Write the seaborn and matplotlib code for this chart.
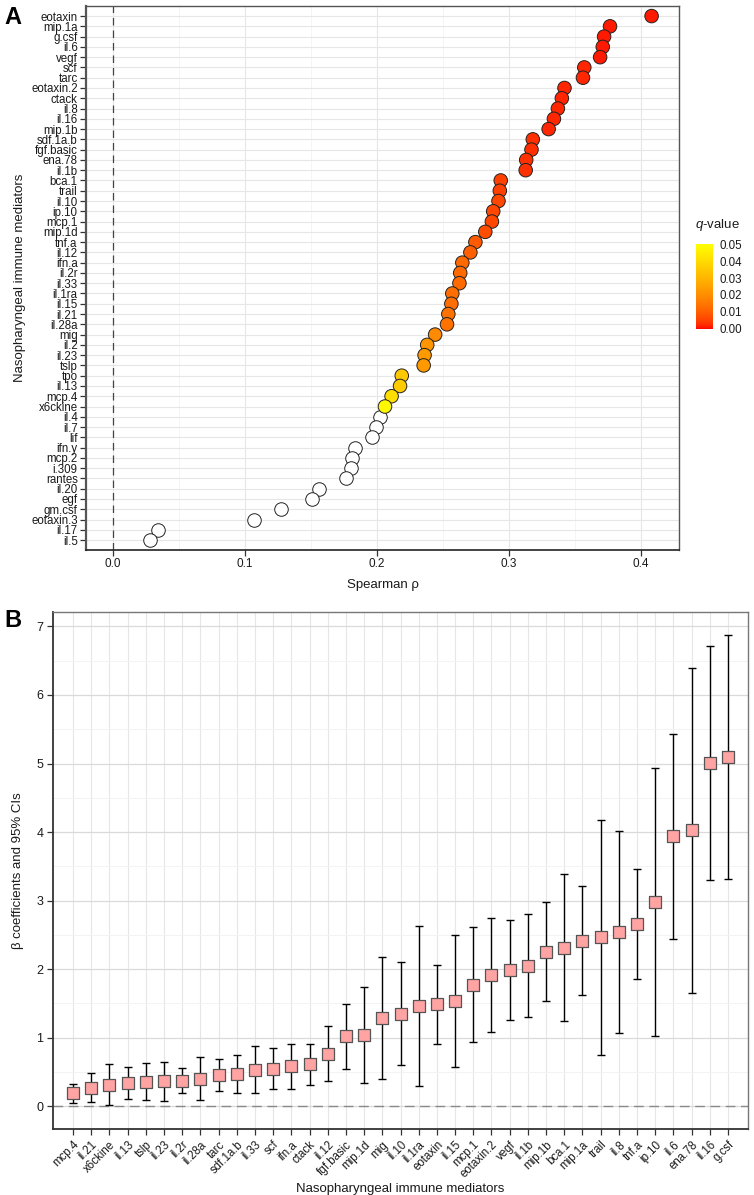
import numpy as np
import pandas as pd
import matplotlib
matplotlib.use("Agg")
import matplotlib.pyplot as plt
import seaborn as sns
from matplotlib.colors import ListedColormap, Normalize
from matplotlib.ticker import MultipleLocator

sns.set_theme(style="white")
plt.rcParams["font.family"] = ["Liberation Sans", "DejaVu Sans"]
plt.rcParams["mathtext.fontset"] = "custom"
plt.rcParams["mathtext.it"] = "Liberation Sans:italic"
plt.rcParams["mathtext.rm"] = "Liberation Sans"

# ---------------- Panel A data ----------------
mediators_a = ["eotaxin", "mip.1a", "g.csf", "il.6", "vegf", "scf", "tarc", "eotaxin.2",
               "ctack", "il.8", "il.16", "mip.1b", "sdf.1a.b", "fgf.basic", "ena.78", "il.1b",
               "bca.1", "trail", "il.10", "ip.10", "mcp.1", "mip.1d", "tnf.a", "il.12",
               "ifn.a", "il.2r", "il.33", "il.1ra", "il.15", "il.21", "il.28a", "mig",
               "il.2", "il.23", "tslp", "tpo", "il.13", "mcp.4", "x6ckine", "il.4",
               "il.7", "lif", "ifn.y", "mcp.2", "i.309", "rantes", "il.20", "egf",
               "gm.csf", "eotaxin.3", "il.17", "il.5"]
spearman_rho = [0.408, 0.3765, 0.372, 0.371, 0.369, 0.357, 0.356, 0.342,
                0.340, 0.337, 0.334, 0.330, 0.318, 0.317, 0.313, 0.3126,
                0.2937, 0.293, 0.292, 0.288, 0.287, 0.282, 0.2745, 0.2707,
                0.2646, 0.263, 0.2624, 0.257, 0.2563, 0.254, 0.253, 0.244,
                0.238, 0.236, 0.2353, 0.2187, 0.2174, 0.211, 0.206, 0.2023,
                0.199, 0.196, 0.1836, 0.1813, 0.1806, 0.1768, 0.1563, 0.1505,
                0.1273, 0.107, 0.0343, 0.028]
q_values = [0.001, 0.001, 0.001, 0.001, 0.001, 0.002, 0.002, 0.002,
            0.002, 0.002, 0.002, 0.002, 0.003, 0.003, 0.003, 0.003,
            0.005, 0.005, 0.006, 0.006, 0.006, 0.007, 0.009, 0.010,
            0.012, 0.012, 0.012, 0.013, 0.013, 0.014, 0.014, 0.019,
            0.022, 0.023, 0.023, 0.035, 0.036, 0.041, 0.048, np.nan,
            np.nan, np.nan, np.nan, np.nan, np.nan, np.nan, np.nan, np.nan,
            np.nan, np.nan, np.nan, np.nan]

# ---------------- Panel B data ----------------
mediators_b = ["mcp.4", "il.21", "x6ckine", "il.13", "tslp", "il.23", "il.2r", "il.28a",
               "tarc", "sdf.1a.b", "il.33", "scf", "ifn.a", "ctack", "il.12", "fgf.basic",
               "mip.1d", "mig", "il.10", "il.1ra", "eotaxin", "il.15", "mcp.1", "eotaxin.2",
               "vegf", "il.1b", "mip.1b", "bca.1", "mip.1a", "trail", "il.8", "tnf.a",
               "ip.10", "il.6", "ena.78", "il.16", "g.csf"]
beta = [0.185, 0.27, 0.31, 0.34, 0.35, 0.36, 0.37, 0.40,
        0.45, 0.47, 0.53, 0.54, 0.58, 0.61, 0.76, 1.02,
        1.04, 1.288, 1.35, 1.463, 1.487, 1.536, 1.774, 1.915,
        1.988, 2.047, 2.256, 2.314, 2.41, 2.465, 2.54, 2.66,
        2.985, 3.94, 4.025, 5.007, 5.095]
ci_low = [0.05, 0.053, 0.015, 0.10, 0.092, 0.068, 0.185, 0.083,
          0.219, 0.194, 0.194, 0.243, 0.243, 0.311, 0.365, 0.535,
          0.34, 0.389, 0.598, 0.30, 0.904, 0.574, 0.933, 1.079,
          1.259, 1.293, 1.527, 1.24, 1.619, 0.749, 1.065, 1.852,
          1.026, 2.445, 1.65, 3.30, 3.315]
ci_high = [0.326, 0.486, 0.608, 0.574, 0.622, 0.647, 0.549, 0.71,
           0.68, 0.739, 0.875, 0.841, 0.909, 0.909, 1.17, 1.497,
           1.745, 2.178, 2.105, 2.63, 2.06, 2.50, 2.61, 2.747,
           2.717, 2.80, 2.985, 3.383, 3.209, 4.176, 4.02, 3.466,
           4.94, 5.435, 6.39, 6.713, 6.87]


# ---------------- colour scale (Lab interpolation red -> yellow, like ggplot) ----------------
def _srgb_to_lab(rgb):
    rgb = np.asarray(rgb, float)
    lin = np.where(rgb <= 0.04045, rgb / 12.92, ((rgb + 0.055) / 1.055) ** 2.4)
    M = np.array([[0.4124, 0.3576, 0.1805], [0.2126, 0.7152, 0.0722], [0.0193, 0.1192, 0.9505]])
    xyz = M @ lin / np.array([0.95047, 1.0, 1.08883])
    f = np.where(xyz > 0.008856, np.cbrt(xyz), 7.787 * xyz + 16 / 116)
    return np.array([116 * f[1] - 16, 500 * (f[0] - f[1]), 200 * (f[1] - f[2])])


def _lab_to_srgb(lab):
    L, a, b = lab
    fy = (L + 16) / 116
    fx = fy + a / 500
    fz = fy - b / 200
    f = np.array([fx, fy, fz])
    xyz = np.where(f ** 3 > 0.008856, f ** 3, (f - 16 / 116) / 7.787) * np.array([0.95047, 1.0, 1.08883])
    Minv = np.array([[3.2406, -1.5372, -0.4986], [-0.9689, 1.8758, 0.0415], [0.0557, -0.2040, 1.0570]])
    lin = Minv @ xyz
    lin = np.clip(lin, 0, 1)
    rgb = np.where(lin <= 0.0031308, 12.92 * lin, 1.055 * lin ** (1 / 2.4) - 0.055)
    return np.clip(rgb, 0, 1)


lab_lo = _srgb_to_lab([1, 0, 0])
lab_hi = _srgb_to_lab([1, 1, 0])
cmap_colors = [_lab_to_srgb(lab_lo + t * (lab_hi - lab_lo)) for t in np.linspace(0, 1, 256)]
q_cmap = ListedColormap(cmap_colors)
q_norm = Normalize(0, 0.05)

# ---------------- figure ----------------
fig = plt.figure(figsize=(7.54, 11.95), dpi=100)
fig.patch.set_facecolor("white")

grid_major = "#E6E6E6"
grid_minor = "#F3F3F3"
spine_col = "#555555"
text_col = "#1A1A1A"

# ===== Panel A =====
axA = fig.add_axes([0.1141, 0.5397, 0.7865, 0.4552])
dfA = pd.DataFrame({"mediator": mediators_a, "rho": spearman_rho, "q": q_values})
dfA["pos"] = np.arange(len(dfA))
sig = dfA[dfA["q"].notna()]
nonsig = dfA[dfA["q"].isna()]

axA.axvline(0, color="#444444", lw=0.9, ls=(0, (6, 4)), zorder=1)
sns.scatterplot(data=nonsig, x="rho", y="pos", ax=axA, color="white", s=95,
                edgecolor="#222222", linewidth=0.7, zorder=3, legend=False)
sns.scatterplot(data=sig, x="rho", y="pos", hue="q", palette=q_cmap, hue_norm=q_norm,
                ax=axA, s=95, edgecolor="#222222", linewidth=0.7, zorder=3, legend=False)

axA.set_xlim(-0.0205, 0.4288)
axA.set_ylim(len(dfA) - 1 + 0.97, -0.97)
axA.set_yticks(dfA["pos"])
axA.set_yticklabels(dfA["mediator"], fontsize=8.3, color=text_col)
axA.xaxis.set_minor_locator(MultipleLocator(0.05))
axA.set_xticks([0.0, 0.1, 0.2, 0.3, 0.4])
axA.set_xticklabels(["0.0", "0.1", "0.2", "0.3", "0.4"], fontsize=8.5, color=text_col)
axA.grid(True, which="major", axis="both", color=grid_major, lw=0.8, zorder=0)
axA.grid(True, which="minor", axis="x", color=grid_minor, lw=0.6, zorder=0)
axA.set_axisbelow(True)
axA.tick_params(axis="both", which="major", direction="out", length=4, width=0.9,
                color="#333333", pad=2, bottom=True, left=True)
axA.tick_params(axis="both", which="minor", length=0)
axA.set_xlabel("Spearman ρ", fontsize=9.5, color=text_col, labelpad=6)
axA.set_ylabel("Nasopharyngeal immune mediators", fontsize=9.5, color=text_col, labelpad=4)
for side, sp in axA.spines.items():
    sp.set_visible(True)
    sp.set_color(spine_col)
    sp.set_linewidth(1.0)
axA.spines["left"].set_linewidth(1.6)
axA.spines["bottom"].set_linewidth(1.2)
axA.spines["bottom"].set_color("#222222")

# colour bar
cax = fig.add_axes([0.923, 0.7247, 0.0225, 0.0711])
sm = plt.cm.ScalarMappable(norm=q_norm, cmap=q_cmap)
cb = fig.colorbar(sm, cax=cax, ticks=[0, 0.01, 0.02, 0.03, 0.04, 0.05])
cb.outline.set_visible(False)
cb.ax.set_yticklabels(["0.00", "0.01", "0.02", "0.03", "0.04", "0.05"], fontsize=8.3, color=text_col)
cb.ax.tick_params(length=3, width=0.6, color="white", direction="in", pad=5)
fig.text(0.9215, 0.8115, r"$q$-value", fontsize=9.5, color=text_col, ha="left", va="center")

fig.text(0.006, 0.985, "A", fontsize=17, fontweight="bold", color="black", ha="left", va="center")

# ===== Panel B =====
axB = fig.add_axes([0.0703, 0.0552, 0.9218, 0.4326])
dfB = pd.DataFrame({"mediator": mediators_b, "beta": beta, "lo": ci_low, "hi": ci_high})
dfB["pos"] = np.arange(len(dfB))

axB.axhline(0, color="#8A8A8A", lw=1.0, ls=(0, (7, 4)), zorder=1)
axB.errorbar(dfB["pos"], dfB["beta"],
             yerr=[dfB["beta"] - dfB["lo"], dfB["hi"] - dfB["beta"]],
             fmt="none", ecolor="black", elinewidth=1.0, capsize=3.2, capthick=1.0, zorder=2)
sns.scatterplot(data=dfB, x="pos", y="beta", ax=axB, marker="s", s=64, color="#FFA3A3",
                edgecolor="#555555", linewidth=0.9, zorder=3, legend=False)

axB.set_xlim(-1.1, len(dfB) - 1 + 1.1)
axB.set_ylim(-0.335, 7.21)
axB.set_xticks(dfB["pos"])
axB.set_xticklabels(dfB["mediator"], rotation=45, ha="right", rotation_mode="anchor",
                    fontsize=8.3, color=text_col)
axB.set_yticks(range(0, 8))
axB.set_yticklabels([str(v) for v in range(0, 8)], fontsize=9, color=text_col)
axB.yaxis.set_minor_locator(MultipleLocator(0.5))
axB.grid(True, which="major", axis="y", color="#DADADA", lw=0.9, zorder=0)
axB.grid(True, which="major", axis="x", color=grid_major, lw=0.8, zorder=0)
axB.grid(True, which="minor", axis="y", color=grid_minor, lw=0.7, zorder=0)
axB.set_axisbelow(True)
axB.tick_params(axis="both", which="major", direction="out", length=4, width=0.9,
                color="#333333", pad=3, bottom=True, left=True)
axB.tick_params(axis="both", which="minor", length=0)
axB.set_xlabel("Nasopharyngeal immune mediators", fontsize=9.5, color=text_col, labelpad=2)
axB.set_ylabel("β coefficients and 95% CIs", fontsize=9.5, color=text_col, labelpad=9)
for side, sp in axB.spines.items():
    sp.set_visible(True)
    sp.set_color("#777777")
    sp.set_linewidth(1.0)
axB.spines["left"].set_color("#333333")
axB.spines["left"].set_linewidth(1.3)
axB.spines["bottom"].set_color("#333333")
axB.spines["bottom"].set_linewidth(1.3)

fig.text(0.006, 0.481, "B", fontsize=17, fontweight="bold", color="black", ha="left", va="center")

fig.savefig("out.png", dpi=100, facecolor="white")
